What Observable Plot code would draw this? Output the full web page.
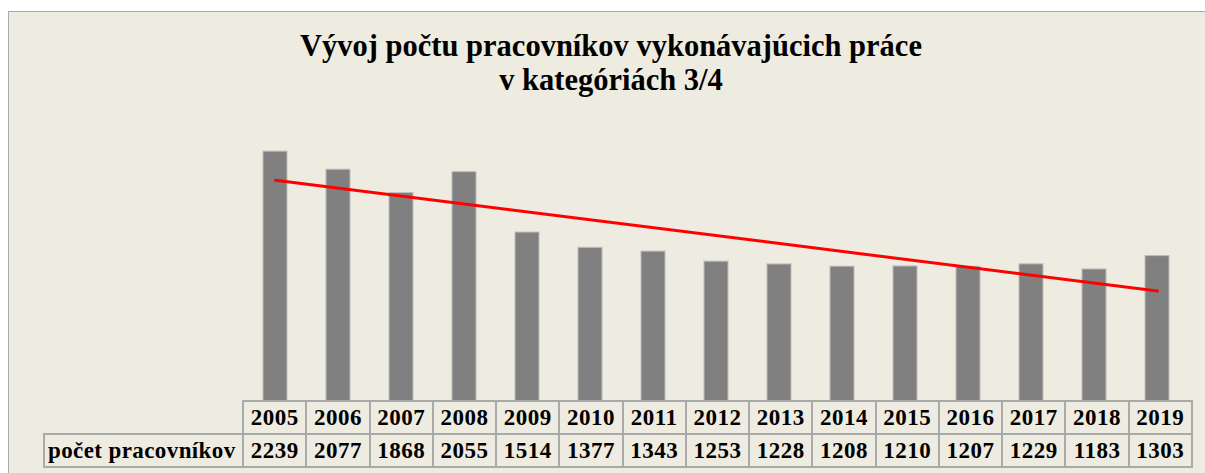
<!DOCTYPE html>
<html>
<head>
<meta charset="utf-8">
<script src="https://cdn.jsdelivr.net/npm/d3@7"></script>
<script src="https://cdn.jsdelivr.net/npm/@observablehq/plot@0.6"></script>
<style>
  html, body { margin: 0; padding: 0; background: #ffffff; width: 1205px; height: 473px; overflow: hidden; }
  #frame { position: absolute; left: 8px; top: 11px; width: 1300px; height: 470px; background: #EEEBE0; border: 1px solid #a8a8a8; box-sizing: border-box; }
  #title { position: absolute; left: 0; top: 29px; width: 1222px; text-align: center; font-family: "Liberation Serif", "DejaVu Serif", serif; font-weight: bold; font-size: 30.5px; line-height: 34px; color: #000; }
  #chart { position: absolute; left: 0; top: 0; }
  #tbl { position: absolute; left: 43px; top: 400px; border-collapse: collapse; table-layout: fixed; width: 1148px; font-family: "Liberation Serif", "DejaVu Serif", serif; font-weight: bold; font-size: 23px; color: #000; }
  #tbl td { border: 2px solid #aaaaaa; text-align: center; padding: 0; height: 31px; letter-spacing: 0.5px; }
  #tbl td.blank { border: none; }
  #tbl td.label { text-align: left; padding-left: 3px; letter-spacing: 0.4px; }
</style>
</head>
<body>
<div id="frame"></div>
<div id="title">Vývoj počtu pracovníkov vykonávajúcich práce<br>v kategóriách 3/4</div>
<div id="chart"></div>
<table id="tbl"></table>
<script>
const years = ["2005","2006","2007","2008","2009","2010","2011","2012","2013","2014","2015","2016","2017","2018","2019"];
const values = [2239, 2077, 1868, 2055, 1514, 1377, 1343, 1253, 1228, 1208, 1210, 1207, 1229, 1183, 1303];
const rowLabel = "počet pracovníkov";

const data = years.map((year, i) => ({year, value: values[i]}));

// least-squares linear trend over the year index
const n = values.length;
const mx = d3.mean(values, (_, i) => i);
const my = d3.mean(values);
const sxy = d3.sum(values, (v, i) => (i - mx) * (v - my));
const sxx = d3.sum(values, (_, i) => (i - mx) ** 2);
const slope = sxy / sxx;
const intercept = my - slope * mx;
const trend = [0, n - 1].map(i => ({year: years[i], value: intercept + slope * i}));

const chart = Plot.plot({
  width: 1205,
  height: 401,
  marginLeft: 241,
  marginRight: 14,
  marginTop: 122,
  marginBottom: 0,
  style: {background: "transparent", overflow: "visible"},
  x: {domain: years, paddingInner: 0.62, paddingOuter: 0.31, axis: null},
  y: {domain: [0, 2500], axis: null},
  marks: [
    Plot.barY(data, {x: "year", y: "value", fill: "#808080", stroke: "#bcbcbc", strokeWidth: 1}),
    Plot.line(trend, {x: "year", y: "value", stroke: "#ff0000", strokeWidth: 3})
  ]
});
document.getElementById("chart").appendChild(chart);

const tbl = document.getElementById("tbl");
const colgroup = document.createElement("colgroup");
const c0 = document.createElement("col"); c0.style.width = "199px"; colgroup.appendChild(c0);
years.forEach(() => { const c = document.createElement("col"); c.style.width = (949 / years.length) + "px"; colgroup.appendChild(c); });
tbl.appendChild(colgroup);
const r1 = document.createElement("tr");
const b = document.createElement("td"); b.className = "blank"; r1.appendChild(b);
years.forEach(y => { const td = document.createElement("td"); td.textContent = y; r1.appendChild(td); });
tbl.appendChild(r1);
const r2 = document.createElement("tr");
const l = document.createElement("td"); l.className = "label"; l.textContent = rowLabel; r2.appendChild(l);
values.forEach(v => { const td = document.createElement("td"); td.textContent = v; r2.appendChild(td); });
tbl.appendChild(r2);
</script>
</body>
</html>
